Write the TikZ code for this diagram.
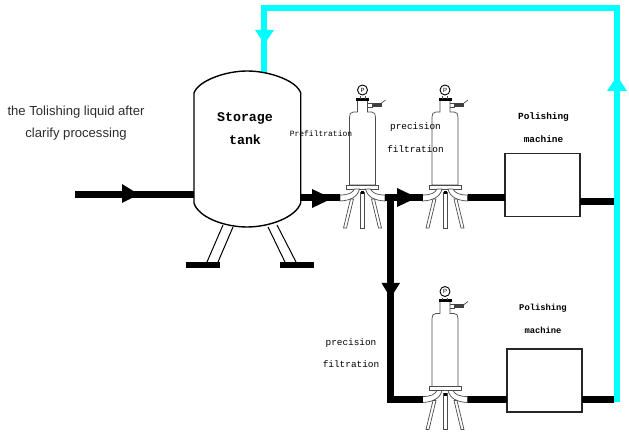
\documentclass[tikz,border=0pt]{standalone}
\usepackage{fontspec}
\setmainfont{Liberation Sans}
\newfontfamily\monoish{Liberation Mono}
\definecolor{loopcyan}{RGB}{0,255,255}
\definecolor{sanstext}{RGB}{45,45,45}
\tikzset{
 x=1pt,y=-1pt,
 pipe/.style={line width=7pt,black},
 cyanpipe/.style={line width=6.5pt,color=loopcyan},
 headr/.style={fill=black,draw=none},
 cyanhead/.style={fill=loopcyan,draw=none},
 machine/.style={draw=black!85,line width=1.7pt,fill=white,minimum width=75.5pt,minimum height=63pt,inner sep=0pt,outer sep=0pt},
 serifl/.style={font=\monoish\fontsize{9.4}{11}\selectfont,inner sep=0pt},
 prefl/.style={font=\monoish\fontsize{8}{10}\selectfont,inner sep=0pt},
 polia/.style={font=\monoish\bfseries\fontsize{9.4}{11}\selectfont,inner sep=0pt},
 polib/.style={font=\monoish\bfseries\fontsize{8.8}{11}\selectfont,inner sep=0pt},
 tanklabel/.style={font=\monoish\bfseries\fontsize{13.3}{15}\selectfont,inner sep=0pt},
 sanslabel/.style={font=\fontsize{13.1}{15}\selectfont,text=sanstext,inner sep=0pt},
 thinl/.style={line width=.7pt,draw=black!70},
 pics/filterunit/.style={code={
  \draw[thinl,fill=white] (-13,-68) .. controls (-13,-71) and (-12,-73) .. (-9,-73) -- (-5,-73) -- (-5,-85) -- (5,-85) -- (5,-73) -- (9,-73) .. controls (12,-73) and (13,-71) .. (13,-68) -- (13,0) -- (-13,0) -- cycle;
  \draw[thinl,fill=white] (-16,0) rectangle (16,4);
  \fill[black] (-6.5,-87) rectangle (6.5,-84);
  \draw[line width=.9pt,fill=white] (0,-95) circle (5);
  \draw[thinl] (-2.5,-88.5) -- (-2.5,-86) (2.5,-88.5) -- (2.5,-86);
  \node[font=\fontsize{6}{6}\selectfont,inner sep=0pt] (-gaugep) at (0,-95) {P};
  \draw[thinl] (5,-82) -- (10,-82) (5,-78) -- (10,-78);
  \fill[black!75] (9,-82) rectangle (19,-78);
  \draw[thinl] (19,-82) -- (23,-85);
  \draw[thinl,fill=white] (-22.5,10) .. controls (-14,10) and (-10,8) .. (-8,4) -- (-3,4) .. controls (-5,12) and (-12,15.5) .. (-22.5,16) -- cycle;
  \draw[thinl,fill=white] (22.5,10) .. controls (14,10) and (10,8) .. (8,4) -- (3,4) .. controls (5,12) and (12,15.5) .. (22.5,16) -- cycle;
  \draw[thinl,fill=white] (-12,14) -- (-19,43) -- (-16,43) -- (-9,14) -- cycle;
  \draw[thinl,fill=white] (12,14) -- (19,43) -- (16,43) -- (9,14) -- cycle;
  \draw[thinl,fill=white] (-2,7) -- (-2,43) -- (2,43) -- (2,7) -- cycle;
  \fill[black] (-1.5,6) rectangle (1.5,9);
  \coordinate (-in) at (-22.5,13);
  \coordinate (-out) at (22.5,13);
 }}
}
\begin{document}
\begin{tikzpicture}
\useasboundingbox (0,0) rectangle (629,435);
\fill[white] (0,0) rectangle (629,435);
% free pipe ends and junctions
\coordinate (feedstart) at (75,195);
\coordinate (tankin) at (195,195);
\coordinate (tankout) at (300,198);
\coordinate (tanktop) at (264,73);
\coordinate (loopa) at (264,8);
\coordinate (loopb) at (617,8);
\coordinate (loopc) at (617,402);
\coordinate (branch) at (390,198);
\coordinate (branchb) at (390,399.5);
\coordinate (outa) at (614,201.5);
\coordinate (outb) at (614,399);
% filters
\pic (fa) at (362.5,185) {filterunit};
\pic (fb) at (445,185) {filterunit};
\pic (fc) at (445,386.5) {filterunit};
% machines
\node[machine] (ma) at (542.5,185) {};
\node[machine] (mb) at (544.5,380.5) {};
% pipes
\draw[pipe] (feedstart) -- (tankin);
\draw[pipe] (tankout) -- (fa-in);
\draw[pipe] (fa-out) -- (fb-in);
\draw[pipe] (branch) -- (branchb) -- (fc-in);
\draw[pipe] (fb-out) -- (ma.west |- fb-out);
\draw[pipe] (fc-out) -- (mb.west |- fc-out);
\draw[pipe] (ma.east |- outa) -- (outa);
\draw[pipe] (mb.east |- outb) -- (outb);
\draw[cyanpipe,line join=miter] (tanktop) -- (loopa) -- (loopb) -- (loopc);
% tank
\draw[line width=1.4pt,fill=white] (194,93) .. controls (198,81) and (225,71) .. (247,71) .. controls (270,71) and (297,81) .. (300.7,93) -- (300.7,203) .. controls (296,217) and (270,227) .. (247,227) .. controls (224,227) and (198,217) .. (194,203) -- cycle;
\draw[line width=1pt] (223,225) -- (207,262) (233,227) -- (218,262);
\draw[line width=1pt] (268,227) -- (285,262) (277,225) -- (296,262);
\fill[black] (186,262) rectangle (220,268);
\fill[black] (280,262) rectangle (314,268);
% arrowheads
\fill[headr] (122,184) -- (139,194.5) -- (122,203) -- cycle;
\fill[headr] (312,189) -- (332,198.5) -- (312,208) -- cycle;
\fill[headr] (397,188) -- (417,197.5) -- (397,207) -- cycle;
\fill[headr] (381.5,283) -- (400,283) -- (390.5,298) -- cycle;
\fill[cyanhead] (255,30) -- (274,30) -- (264.5,44) -- cycle;
\fill[cyanhead] (607,91) -- (627,91) -- (617,76) -- cycle;
% labels
\node[sanslabel] (t1) at (76,112) {the Tolishing liquid after};
\node[sanslabel] (t2) at (76,134) {clarify processing};
\node[tanklabel] (t3) at (245,118) {Storage};
\node[tanklabel] (t4) at (245,140) {tank};
\node[prefl] (t5) at (321,134) {Prefiltration};
\node[serifl] (t6) at (415.5,127) {precision};
\node[serifl] (t7) at (415.5,149) {filtration};
\node[polia] (t8) at (543.5,117) {Polishing};
\node[polia] (t9) at (543.5,139) {machine};
\node[polib] (t10) at (543,308) {Polishing};
\node[polib] (t11) at (543,330) {machine};
\node[serifl] (t12) at (351,343) {precision};
\node[serifl] (t13) at (351,364) {filtration};
\end{tikzpicture}
\end{document}
